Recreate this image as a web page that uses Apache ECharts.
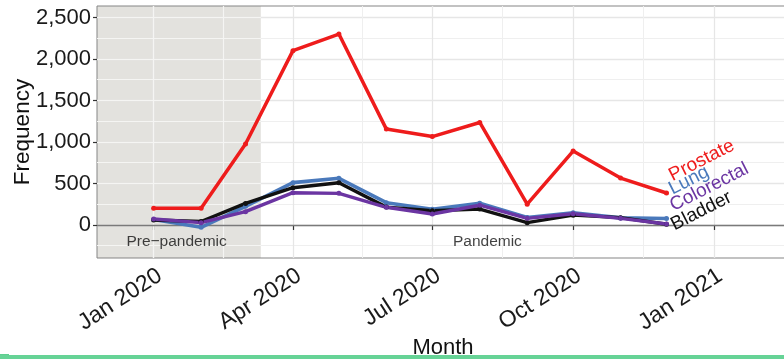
<!DOCTYPE html>
<html>
<head>
<meta charset="utf-8">
<script src="https://cdn.jsdelivr.net/npm/echarts@6/dist/echarts.min.js"></script>
<style>
  html, body { margin: 0; padding: 0; background: #ffffff; }
  #chart { width: 784px; height: 359px; }
</style>
</head>
<body>
<div id="chart"></div>
<script>
// Monthly case counts, 2020
const months = ['2020-01-01', '2020-02-01', '2020-03-01', '2020-04-01', '2020-05-01', '2020-06-01',
                '2020-07-01', '2020-08-01', '2020-09-01', '2020-10-01', '2020-11-01', '2020-12-01'];
const prostate   = [200, 200, 975, 2100, 2300, 1155, 1065, 1235, 250, 890, 565, 385];
const lung       = [65, -28, 225, 510, 562, 268, 189, 261, 90, 148, 85, 78];
const colorectal = [72, 28, 160, 389, 381, 213, 132, 238, 80, 135, 80, 12];
const bladder    = [60, 42, 260, 449, 509, 215, 172, 192, 28, 118, 88, 8];

// Axis breaks
const yMajorTicks = [0, 500, 1000, 1500, 2000, 2500];
const yMinorTicks = [-250, 250, 750, 1250, 1750, 2250];
const xMajorTicks = ['2020-01-01', '2020-04-01', '2020-07-01', '2020-10-01', '2021-01-01'];
const xMinorTicks = ['2020-02-15T12:00:00Z', '2020-05-16T12:00:00Z', '2020-08-16', '2020-11-16'];
const monthNames = ['Jan', 'Feb', 'Mar', 'Apr', 'May', 'Jun', 'Jul', 'Aug', 'Sep', 'Oct', 'Nov', 'Dec'];

// Visible ranges
const xRange = ['2019-11-25', '2021-02-19'];
const yRange = [-398, 2638];

// Period shading and annotations
const pandemicStart = '2020-03-11';
const periodLabels = ['Pre\u2212pandemic', 'Pandemic'];
const periodLabelDates = ['2020-01-16', '2020-08-06'];
const periodLabelValue = -200;

const t = s => Date.parse(s.length === 10 ? s + 'T00:00:00Z' : s);
const FONT = '"Liberation Sans", Arial, Helvetica, sans-serif';

const xMin = t(xRange[0]), xMax = t(xRange[1]);
const shadeEnd = t(pandemicStart);

function pairs(values) {
  return months.map((m, i) => [t(m), values[i]]);
}

// Series styling: name, values, colour, label placement
const cancers = [
  { name: 'Lung',       values: lung,       color: '#4a79bb', width: 3.6, label: [8, -20] },
  { name: 'Bladder',    values: bladder,    color: '#111111', width: 3.4, label: [10, 10] },
  { name: 'Colorectal', values: colorectal, color: '#6b35a2', width: 3.4, label: [9, -9] },
  { name: 'Prostate',   values: prostate,   color: '#ee1c1c', width: 3.5, label: [8, -8] }
];

const lineSeries = cancers.map(c => ({
  name: c.name,
  type: 'line',
  z: 3,
  data: pairs(c.values),
  symbol: 'circle',
  symbolSize: 5,
  showSymbol: true,
  lineStyle: { color: c.color, width: c.width },
  itemStyle: { color: c.color },
  emphasis: { disabled: true },
  markPoint: {
    z: 6,
    symbol: 'circle',
    symbolSize: 0,
    silent: true,
    data: [{ coord: [t(months[months.length - 1]), c.values[c.values.length - 1]], value: c.name }],
    label: {
      show: true,
      formatter: c.name,
      position: c.label,
      align: 'left',
      verticalAlign: 'bottom',
      rotate: 27,
      color: c.color,
      fontSize: 19,
      fontFamily: FONT
    }
  }
}));

// White gridlines over the shaded pre-pandemic band
const shadeGridLines = []
  .concat(yMajorTicks.concat(yMinorTicks).map(v => [{ coord: [xMin, v] }, { coord: [shadeEnd, v] }]))
  .concat(xMajorTicks.concat(xMinorTicks).map(s => t(s)).filter(x => x < shadeEnd)
    .map(x => [{ coord: [x, yRange[0]] }, { coord: [x, yRange[1]] }]));

const helperSeries = [
  {
    name: 'shade',
    type: 'line',
    z: 0,
    data: [],
    silent: true,
    markArea: {
      z: -1,
      silent: true,
      itemStyle: { color: '#e3e2de' },
      data: [[{ xAxis: xMin }, { xAxis: shadeEnd }]]
    }
  },
  {
    name: 'shadeGrid',
    type: 'line',
    data: [],
    silent: true,
    markLine: {
      z: 0.5,
      silent: true,
      symbol: ['none', 'none'],
      label: { show: false },
      lineStyle: { color: '#f5f5f3', width: 1.2, type: 'solid' },
      data: shadeGridLines
    }
  },
  {
    name: 'zero',
    type: 'line',
    data: [],
    silent: true,
    markLine: {
      z: 1,
      silent: true,
      symbol: ['none', 'none'],
      label: { show: false },
      lineStyle: { color: '#7a7a7a', width: 1.3, type: 'solid' },
      data: [{ yAxis: 0 }]
    }
  },
  {
    name: 'periods',
    type: 'scatter',
    z: 2,
    silent: true,
    symbolSize: 0,
    data: periodLabelDates.map((d, i) => ({ value: [t(d), periodLabelValue], name: periodLabels[i] })),
    label: {
      show: true,
      position: 'inside',
      formatter: p => p.name,
      color: '#111111',
      fontSize: 15.5,
      fontFamily: FONT
    }
  }
];

const chart = echarts.init(document.getElementById('chart'), null, { renderer: 'canvas' });

chart.setOption({
  animation: false,
  backgroundColor: '#ffffff',
  textStyle: { fontFamily: FONT },
  grid: {
    left: 97, top: 6, right: -5, bottom: 101,
    show: true,
    backgroundColor: 'transparent',
    borderColor: '#858585',
    borderWidth: 1,
    containLabel: false,
    outerBoundsMode: 'none'
  },
  xAxis: [
    {
      type: 'value',
      min: xMin, max: xMax,
      position: 'bottom',
      name: 'Month',
      nameLocation: 'middle',
      nameGap: 79,
      nameMoveOverlap: false,
      nameTextStyle: { fontSize: 22, color: '#111111', fontFamily: FONT },
      axisLine: { show: false },
      axisTick: { show: true, length: 5, customValues: xMajorTicks.map(t), lineStyle: { color: '#333333', width: 1.2 } },
      axisLabel: {
        customValues: xMajorTicks.map(t),
        rotate: 33,
        align: 'right',
        verticalAlign: 'top',
        margin: 6,
        fontSize: 23,
        color: '#1a1a1a',
        fontFamily: FONT,
        formatter: v => { const d = new Date(v); return monthNames[d.getUTCMonth()] + ' ' + d.getUTCFullYear(); }
      },
      splitLine: { show: true, lineStyle: { color: '#e6e6e6', width: 1.3 } }
    },
    {
      type: 'value',
      min: xMin, max: xMax,
      position: 'bottom',
      axisLine: { show: false },
      axisTick: { show: false, customValues: xMinorTicks.map(t) },
      axisLabel: { show: false },
      splitLine: { show: true, lineStyle: { color: '#efefef', width: 1 } }
    }
  ],
  yAxis: [
    {
      type: 'value',
      min: yRange[0], max: yRange[1],
      position: 'left',
      name: 'Frequency',
      nameLocation: 'middle',
      nameGap: 63,
      nameMoveOverlap: false,
      nameRotate: 90,
      nameTextStyle: { fontSize: 22.5, color: '#111111', fontFamily: FONT },
      axisLine: { show: false },
      axisTick: { show: true, length: 4, customValues: yMajorTicks, lineStyle: { color: '#333333', width: 1.2 } },
      axisLabel: {
        customValues: yMajorTicks,
        margin: 6,
        fontSize: 22,
        color: '#1a1a1a',
        fontFamily: FONT,
        formatter: v => v.toLocaleString('en-US')
      },
      splitLine: { show: true, lineStyle: { color: '#e6e6e6', width: 1.3 } }
    },
    {
      type: 'value',
      min: yRange[0], max: yRange[1],
      position: 'left',
      axisLine: { show: false },
      axisTick: { show: false, customValues: yMinorTicks },
      axisLabel: { show: false },
      splitLine: { show: true, lineStyle: { color: '#efefef', width: 1 } }
    }
  ],
  series: helperSeries.concat(lineSeries),
  graphic: [
    { type: 'rect', left: 0, top: 354, z: 100, shape: { width: 9, height: 5 }, style: { fill: '#5fcf90' } },
    { type: 'rect', left: 0, top: 355, z: 100, shape: { width: 784, height: 4 }, style: { fill: '#66d396' } }
  ]
});
</script>
</body>
</html>
